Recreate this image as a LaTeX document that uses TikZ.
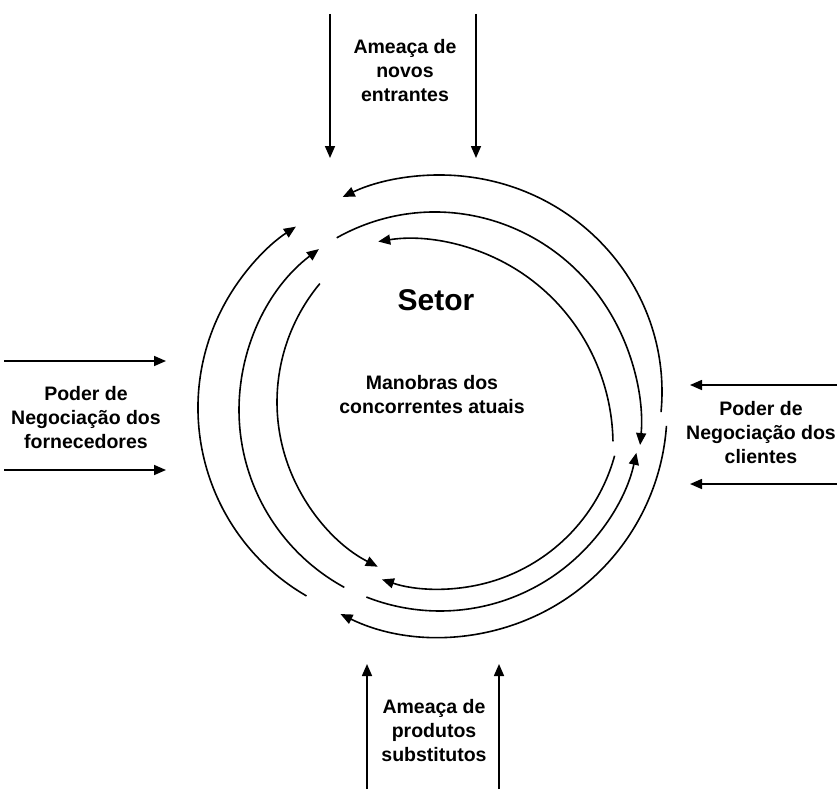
\documentclass[tikz,border=0pt]{standalone}
\usepackage{fontspec}
\setmainfont{Liberation Sans}
\usetikzlibrary{arrows.meta}

\begin{document}
\begin{tikzpicture}[x=1pt,y=-1pt,
    force/.style={line width=1.6pt,-{Triangle[length=12pt,width=10pt]}},
    orbit/.style={line width=1.6pt,-{Triangle[length=12pt,width=10pt]}},
    lbl/.style={font=\bfseries\fontsize{19.5}{24}\selectfont,align=center}]

\useasboundingbox (0,0) rectangle (837,789);

% Centres of the arcs
\coordinate (cOT) at (440,392);
\coordinate (cMT) at (435,425);
\coordinate (cIT) at (410,445);
\coordinate (cOB) at (440,410);
\coordinate (cMB) at (440,410);
\coordinate (cIB) at (440,408);
\coordinate (cOL) at (415,408);
\coordinate (cML) at (441,410);
\coordinate (cIL) at (462,402);

% Outer ring
\draw[orbit] (cOT) ++(5.3:222 and 217) arc[start angle=5.3,end angle=-116,x radius=222,y radius=217];
\draw[orbit] (cOB) ++(4:227) arc[start angle=4,end angle=116,radius=227];
\draw[orbit] (cOL) ++(120:217) arc[start angle=120,end angle=236.7,radius=217];

% Middle ring
\draw[orbit] (cMT) ++(-118.5:206 and 213) arc[start angle=-118.5,end angle=5.4,x radius=206,y radius=213];
\draw[orbit] (cMB) ++(111.5:201) arc[start angle=111.5,end angle=12.3,radius=201];
\draw[orbit] (cML) ++(118.6:202) arc[start angle=118.6,end angle=232.8,radius=202];

% Inner ring
\draw[orbit] (cIT) ++(-1:203 and 206) arc[start angle=-1,end angle=-99,x radius=203,y radius=206];
\draw[orbit] (cIB) ++(15.3:181) arc[start angle=15.3,end angle=108.7,radius=181];
\draw[orbit] (cIL) ++(219.8:185) arc[start angle=219.8,end angle=117.1,radius=185];

% Centre texts
\node[font=\bfseries\fontsize{30}{36}\selectfont] (setor) at (436,300) {Setor};
\node[lbl] (manobras) at (432,395) {Manobras dos\\concorrentes atuais};

% The four forces
\node[lbl] (novos) at (405,71) {Ameaça de\\novos\\entrantes};
\node[lbl] (subst) at (434,731) {Ameaça de\\produtos\\substitutos};
\node[lbl] (fornec) at (86,418) {Poder de\\Negociação dos\\fornecedores};
\node[lbl] (client) at (761,433) {Poder de\\Negociação dos\\clientes};

% Arrow ends
\coordinate (n1) at (330,14);  \coordinate (n1e) at (330,158);
\coordinate (n2) at (476,14);  \coordinate (n2e) at (476,158);
\coordinate (s1) at (367,789); \coordinate (s1e) at (367,664);
\coordinate (s2) at (499,789); \coordinate (s2e) at (499,664);
\coordinate (f1) at (4,361);   \coordinate (f1e) at (166,361);
\coordinate (f2) at (4,470);   \coordinate (f2e) at (166,470);
\coordinate (c1) at (837,385); \coordinate (c1e) at (690,385);
\coordinate (c2) at (837,484); \coordinate (c2e) at (690,484);

\draw[force] (n1) -- (n1e);
\draw[force] (n2) -- (n2e);
\draw[force] (s1) -- (s1e);
\draw[force] (s2) -- (s2e);
\draw[force] (f1) -- (f1e);
\draw[force] (f2) -- (f2e);
\draw[force] (c1) -- (c1e);
\draw[force] (c2) -- (c2e);

\end{tikzpicture}
\end{document}
